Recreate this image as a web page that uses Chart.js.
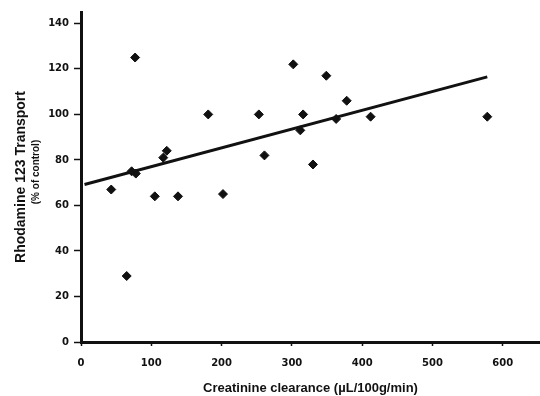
<!DOCTYPE html>
<html>
<head>
<meta charset="utf-8">
<script src="https://cdn.jsdelivr.net/npm/chart.js@4/dist/chart.umd.min.js"></script>
<style>
  html, body { margin: 0; padding: 0; background: #fff; }
  #wrap { width: 540px; height: 396px; position: relative; }
</style>
</head>
<body>
<div id="wrap"><canvas id="c" width="540" height="396"></canvas></div>
<script>
// Data
const clearance = [43, 65, 72, 77, 78, 105, 117, 122, 138, 181, 202, 253, 261, 302, 312, 316, 330, 349, 363, 378, 412, 578];
const transport = [67, 29, 75, 125, 74, 64, 81, 84, 64, 100, 65, 100, 82, 122, 93, 100, 78, 117, 98, 106, 99, 99];
const fitX = [5, 578];
const fitY = [69.2, 116.5];
const xTitle = 'Creatinine clearance (µL/100g/min)';
const yTitle = 'Rhodamine 123 Transport';
const ySubTitle = '(% of control)';

const points = clearance.map((x, i) => ({ x: x, y: transport[i] }));
const fitLine = fitX.map((x, i) => ({ x: x, y: fitY[i] }));

const subTitlePlugin = {
  id: 'subTitle',
  afterDraw(chart) {
    const ctx = chart.ctx;
    const ca = chart.chartArea;
    ctx.save();
    ctx.translate(36, (ca.top + ca.bottom) / 2 - 5);
    ctx.rotate(-Math.PI / 2);
    ctx.font = 'bold 10px "Liberation Sans", Arial, sans-serif';
    ctx.fillStyle = '#111';
    ctx.textAlign = 'center';
    ctx.textBaseline = 'middle';
    ctx.fillText(ySubTitle, 0, 0);
    ctx.restore();
  }
};

new Chart(document.getElementById('c'), {
  type: 'scatter',
  data: {
    datasets: [
      {
        type: 'scatter',
        data: points,
        pointStyle: 'rectRot',
        pointRadius: 4.5,
        pointBorderWidth: 1,
        backgroundColor: '#111',
        borderColor: '#111',
        order: 1
      },
      {
        type: 'line',
        data: fitLine,
        borderColor: '#111',
        borderWidth: 3,
        pointRadius: 0,
        fill: false,
        tension: 0,
        order: 2
      }
    ]
  },
  options: {
    responsive: false,
    animation: false,
    devicePixelRatio: 1,
    layout: { autoPadding: false, padding: { top: 12, right: 0, bottom: 0, left: 0 } },
    plugins: {
      legend: { display: false },
      tooltip: { enabled: false }
    },
    scales: {
      x: {
        type: 'linear',
        min: 0,
        max: 653,
        afterFit(scale) { scale.height = 54; scale.paddingLeft = 0; scale.paddingRight = 0; },
        border: { display: true, color: '#111', width: 3 },
        grid: { drawOnChartArea: false, drawTicks: true, tickLength: 4, tickWidth: 1.5, tickColor: '#111' },
        ticks: {
          stepSize: 100,
          includeBounds: false,
          padding: 11,
          color: '#111',
          font: { family: '"DejaVu Sans", sans-serif', weight: 'bold', size: 10 },
          maxRotation: 0
        },
        title: {
          display: true,
          text: xTitle,
          color: '#111',
          font: { family: '"Liberation Sans", Arial, sans-serif', weight: 'bold', size: 13 },
          padding: { top: 0, bottom: 0 }
        }
      },
      y: {
        type: 'linear',
        min: 0,
        max: 145,
        afterFit(scale) { scale.width = 81; scale.paddingTop = 0; scale.paddingBottom = 0; },
        border: { display: true, color: '#111', width: 3 },
        grid: { drawOnChartArea: false, drawTicks: true, tickLength: 7, tickWidth: 1.5, tickColor: '#111' },
        ticks: {
          stepSize: 20,
          includeBounds: false,
          padding: 5,
          color: '#111',
          font: { family: '"DejaVu Sans", sans-serif', weight: 'bold', size: 10 }
        },
        title: {
          display: true,
          text: yTitle,
          color: '#111',
          font: { family: '"Liberation Sans", Arial, sans-serif', weight: 'bold', size: 14 },
          padding: { top: 13, bottom: 0 }
        }
      }
    }
  },
  plugins: [subTitlePlugin]
});
</script>
</body>
</html>
